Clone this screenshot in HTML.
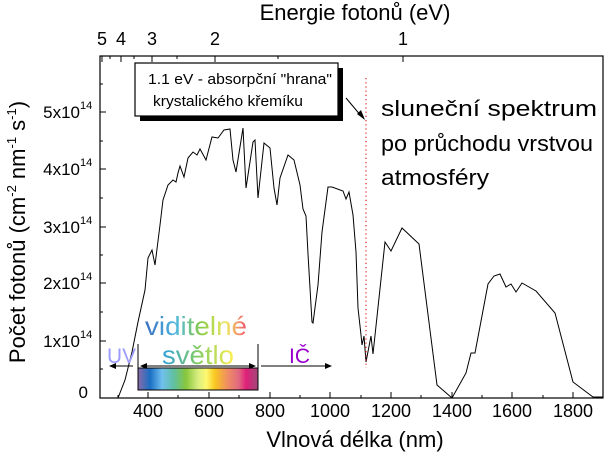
<!DOCTYPE html>
<html><head><meta charset="utf-8"><style>
html,body{margin:0;padding:0;background:#fff}
svg{display:block}
text{font-family:"Liberation Sans",sans-serif}
</style></head><body>
<svg width="605" height="456" viewBox="0 0 605 456" xmlns="http://www.w3.org/2000/svg">
<defs>
<linearGradient id="g" x1="0" x2="1" y1="0" y2="0">
<stop offset="0" stop-color="#8a6aa8"/><stop offset="0.1" stop-color="#1a6fc4"/>
<stop offset="0.2" stop-color="#70c0ee"/><stop offset="0.3" stop-color="#60c0a0"/>
<stop offset="0.4" stop-color="#88c63c"/><stop offset="0.5" stop-color="#d8ee80"/>
<stop offset="0.57" stop-color="#fff870"/><stop offset="0.64" stop-color="#f8c820"/>
<stop offset="0.74" stop-color="#f09060"/><stop offset="0.84" stop-color="#e06880"/>
<stop offset="0.9" stop-color="#e0207a"/><stop offset="1" stop-color="#a04878"/>
</linearGradient>
<linearGradient id="tg" x1="0" x2="1"><stop offset="0" stop-color="#3a6ec0"/><stop offset="0.3" stop-color="#50b8e0"/><stop offset="0.55" stop-color="#88cc44"/><stop offset="0.8" stop-color="#f0e860"/><stop offset="1" stop-color="#f05070"/></linearGradient>
<linearGradient id="tg2" x1="0" x2="1"><stop offset="0" stop-color="#30a0e0"/><stop offset="0.5" stop-color="#80cc60"/><stop offset="1" stop-color="#ffee50"/></linearGradient>
</defs>
<rect x="100" y="56" width="503" height="342" fill="none" stroke="#000" stroke-width="1.2"/>
<g stroke="#000" stroke-width="1">
<line x1="148" y1="398" x2="148" y2="392"/><line x1="209" y1="398" x2="209" y2="392"/><line x1="270" y1="398" x2="270" y2="392"/><line x1="330" y1="398" x2="330" y2="392"/><line x1="391" y1="398" x2="391" y2="392"/><line x1="452" y1="398" x2="452" y2="392"/><line x1="512" y1="398" x2="512" y2="392"/><line x1="573" y1="398" x2="573" y2="392"/>
<line x1="118" y1="398" x2="118" y2="395"/><line x1="178" y1="398" x2="178" y2="395"/><line x1="239" y1="398" x2="239" y2="395"/><line x1="300" y1="398" x2="300" y2="395"/><line x1="361" y1="398" x2="361" y2="395"/><line x1="421" y1="398" x2="421" y2="395"/><line x1="482" y1="398" x2="482" y2="395"/><line x1="543" y1="398" x2="543" y2="395"/>
<line x1="100" y1="341" x2="106" y2="341"/><line x1="100" y1="283" x2="106" y2="283"/><line x1="100" y1="227" x2="106" y2="227"/><line x1="100" y1="169" x2="106" y2="169"/><line x1="100" y1="112" x2="106" y2="112"/>
<line x1="100" y1="369" x2="103" y2="369"/><line x1="100" y1="312" x2="103" y2="312"/><line x1="100" y1="255" x2="103" y2="255"/><line x1="100" y1="198" x2="103" y2="198"/><line x1="100" y1="141" x2="103" y2="141"/><line x1="100" y1="84" x2="103" y2="84"/>
<line x1="403" y1="56" x2="403" y2="62"/><line x1="215" y1="56" x2="215" y2="62"/><line x1="152" y1="56" x2="152" y2="62"/><line x1="121" y1="56" x2="121" y2="62"/><line x1="102" y1="56" x2="102" y2="62"/>
<line x1="278" y1="56" x2="278" y2="59"/><line x1="177" y1="56" x2="177" y2="59"/><line x1="134" y1="56" x2="134" y2="59"/><line x1="110" y1="56" x2="110" y2="59"/>
</g>
<g font-size="18" fill="#000" text-anchor="middle">
<text x="148" y="417">400</text><text x="209" y="417">600</text><text x="270" y="417">800</text><text x="330" y="417">1000</text><text x="391" y="417">1200</text><text x="452" y="417">1400</text><text x="512" y="417">1600</text><text x="573" y="417">1800</text>
<text x="102" y="45">5</text><text x="121" y="45">4</text><text x="152" y="45">3</text><text x="215" y="45">2</text><text x="403" y="45">1</text>
</g>
<g font-size="17" fill="#000" text-anchor="end">
<text x="88" y="398">0</text>
<text x="80" y="347">1x10</text><text x="80" y="289">2x10</text><text x="80" y="233">3x10</text><text x="80" y="175">4x10</text><text x="80" y="118">5x10</text>
</g>
<g font-size="11" fill="#000">
<text x="80" y="338">14</text><text x="80" y="280">14</text><text x="80" y="224">14</text><text x="80" y="166">14</text><text x="80" y="109">14</text>
</g>
<text x="355" y="20" font-size="22" text-anchor="middle">Energie fotonů (eV)</text>
<text x="355" y="447" font-size="22" text-anchor="middle">Vlnová délka (nm)</text>
<text transform="translate(25,232) rotate(-90)" font-size="22" text-anchor="middle">Počet fotonů (cm<tspan font-size="13" dy="-9">-2</tspan><tspan dy="9"> nm</tspan><tspan font-size="13" dy="-9">-1</tspan><tspan dy="9"> s</tspan><tspan font-size="13" dy="-9">-1</tspan><tspan dy="9">)</tspan></text>
<polyline fill="none" stroke="#000" stroke-width="1" points="118,398 125,380 132,352 138,322 145,290 148,258 152,250 155,265 160,225 163,200 168,185 173,180 176,182 178,173 180,166 184,177 188,158 193,152 197,155 200,149 206,160 212,137 218,138 224,130 230,129 233,160 236,172 243,128 246,188 248,175 253,142 255,140 258,198 264,143 270,148 274,188 277,205 280,178 288,155 294,160 300,185 303,209 306,216 308,254 312,322 313,323 318,285 322,232 328,187 332,187 343,191 346,199 349,192 353,215 356,252 358,308 361,335 362,345 364,336 366,362 371,336 373,354 385,242 391,251 402,228 419,244 437,385 452,398 466,373 471,353 475,353 488,284 494,276 500,274 506,287 511,284 516,292 522,283 536,291 555,313 573,382 593,397 603,397"/>
<line x1="366" y1="78" x2="366" y2="368" stroke="#e02020" stroke-width="1.2" stroke-dasharray="1.2,3"/>
<rect x="140" y="68" width="203" height="53" fill="#000"/>
<rect x="135" y="63" width="203" height="53" fill="#fff" stroke="#000" stroke-width="1.2"/>
<text x="148" y="84" font-size="15" textLength="184" lengthAdjust="spacingAndGlyphs">1.1 eV - absorpční "hrana"</text>
<text x="153" y="106" font-size="15" textLength="150" lengthAdjust="spacingAndGlyphs">krystalického křemíku</text>
<line x1="346" y1="98" x2="362" y2="117" stroke="#000"/>
<polygon points="365,120 357,114 361,110" fill="#000"/>
<g font-size="22" fill="#000"><text x="381" y="116" textLength="216" lengthAdjust="spacingAndGlyphs">sluneční spektrum</text><text x="381" y="151" textLength="212" lengthAdjust="spacingAndGlyphs">po průchodu vrstvou</text><text x="381" y="185" textLength="108" lengthAdjust="spacingAndGlyphs">atmosféry</text></g>
<rect x="138" y="368" width="120" height="22" fill="url(#g)" stroke="#000" stroke-width="1"/>
<line x1="138" y1="344" x2="138" y2="390" stroke="#000"/><line x1="258" y1="344" x2="258" y2="390" stroke="#000"/>
<line x1="141" y1="366" x2="255" y2="366" stroke="#000"/>
<polygon points="140,366 147,363 147,369" fill="#000"/><polygon points="256,366 249,363 249,369" fill="#000"/>
<line x1="111" y1="366" x2="133" y2="366" stroke="#000"/><polygon points="109,366 116,363 116,369" fill="#000"/>
<line x1="261" y1="366" x2="330" y2="366" stroke="#000"/><polygon points="332,366 325,363 325,369" fill="#000"/>
<text x="107" y="363" font-size="21" fill="#9c9cff" textLength="29" lengthAdjust="spacingAndGlyphs">UV</text>
<text x="289" y="363" font-size="21" fill="#9900cc">IČ</text>
<text x="145" y="335" font-size="26" fill="url(#tg)" textLength="102" lengthAdjust="spacingAndGlyphs">viditelné</text>
<text x="162" y="364" font-size="26" fill="url(#tg2)" textLength="72" lengthAdjust="spacingAndGlyphs">světlo</text>
</svg>
</body></html>
